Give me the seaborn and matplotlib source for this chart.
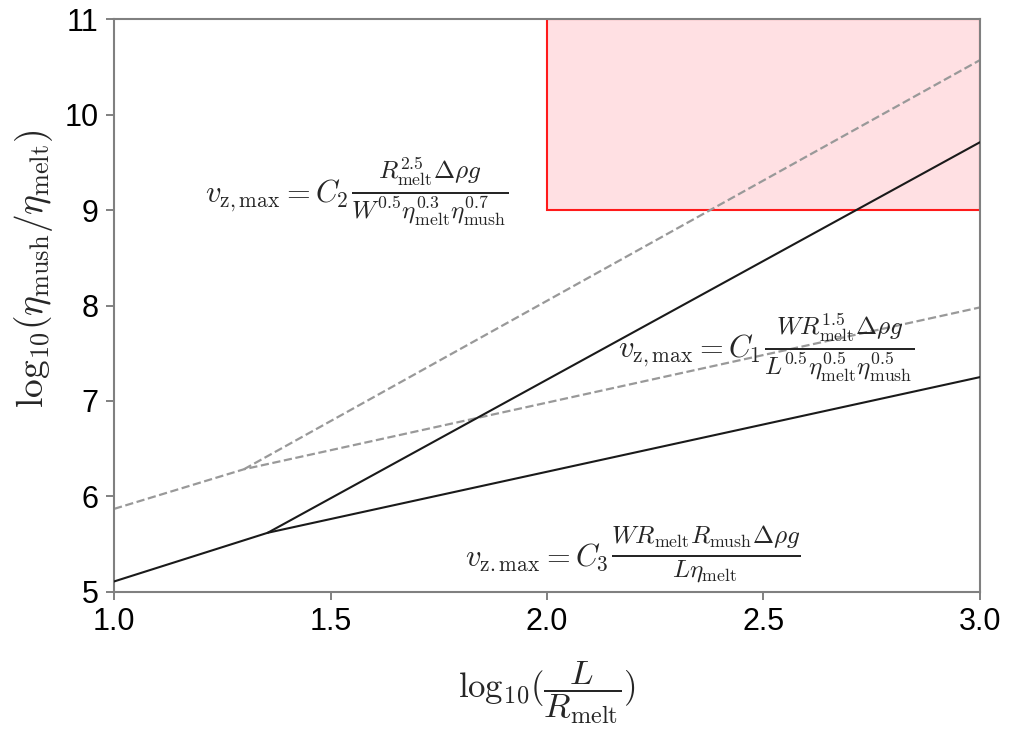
import numpy as np
import matplotlib
matplotlib.use("Agg")
import matplotlib.pyplot as plt
import seaborn as sns
from matplotlib.patches import Rectangle

sns.set_theme(style="ticks")
plt.rcParams["font.family"] = ["Liberation Sans", "DejaVu Sans"]
plt.rcParams["mathtext.fontset"] = "cm"

# regime boundaries (x = log10(L/R_melt), y = log10(eta ratio))
solid_low_x = [1.0, 1.355, 3.0]
solid_low_y = [5.11, 5.62, 7.25]
solid_steep_x = [1.355, 3.0]
solid_steep_y = [5.62, 9.71]

dash_low_x = [1.0, 1.30, 3.0]
dash_low_y = [5.87, 6.285, 7.98]
dash_steep_x = [1.30, 3.0]
dash_steep_y = [6.285, 10.57]

# highlighted region
box_x = [2.0, 3.0]
box_y = [9.0, 11.0]

xticks = [1.0, 1.5, 2.0, 2.5, 3.0]
yticks = [5, 6, 7, 8, 9, 10, 11]

# scaling-law labels: (x, y, prefix, fraction)
labels = [
    (1.21, 9.15,
     r"$v_{\mathrm{z,max}} = C_2$",
     r"$\frac{R_{\mathrm{melt}}^{2.5}\Delta\rho g}"
     r"{W^{0.5}\eta_{\mathrm{melt}}^{0.3}\eta_{\mathrm{mush}}^{0.7}}$"),
    (2.164, 7.52,
     r"$v_{\mathrm{z,max}} = C_1$",
     r"$\frac{W R_{\mathrm{melt}}^{1.5}\Delta\rho g}"
     r"{L^{0.5}\eta_{\mathrm{melt}}^{0.5}\eta_{\mathrm{mush}}^{0.5}}$"),
    (1.81, 5.36,
     r"$v_{\mathrm{z.max}} = C_3$",
     r"$\frac{W R_{\mathrm{melt}} R_{\mathrm{mush}}\Delta\rho g}"
     r"{L\eta_{\mathrm{melt}}}$"),
]

fig = plt.figure(figsize=(10.11, 7.35), dpi=100)
ax = fig.add_axes([0.1128, 0.1946, 0.8565, 0.7795])

ax.add_patch(Rectangle((box_x[0], box_y[0]), box_x[1] - box_x[0], box_y[1] - box_y[0],
                       facecolor="#ffe0e3", edgecolor="#ff1a1a", linewidth=1.5, zorder=1))

sns.lineplot(x=dash_low_x, y=dash_low_y, ax=ax, color="#999999", linestyle="--",
             linewidth=1.6, dashes=(5, 3), zorder=2)
sns.lineplot(x=dash_steep_x, y=dash_steep_y, ax=ax, color="#999999", linestyle="--",
             linewidth=1.6, dashes=(5, 3), zorder=2)
sns.lineplot(x=solid_low_x, y=solid_low_y, ax=ax, color="#1a1a1a", linewidth=1.5, zorder=3)
sns.lineplot(x=solid_steep_x, y=solid_steep_y, ax=ax, color="#1a1a1a", linewidth=1.5, zorder=3)

ax.set_xlim(1.0, 3.0)
ax.set_ylim(5, 11)
ax.set_xticks(xticks)
ax.set_xticklabels([f"{t:.1f}" for t in xticks])
ax.set_yticks(yticks)
ax.tick_params(axis="both", labelsize=22, color="#808080", length=6, width=1.4,
               direction="out", labelcolor="black", pad=5)
for sp in ax.spines.values():
    sp.set_color("#808080")
    sp.set_linewidth(1.5)

ax.set_xlabel(r"$\mathrm{log}_{10}(\dfrac{L}{R_{\mathrm{melt}}})$", fontsize=25, labelpad=16)
ax.set_ylabel(r"$\mathrm{log}_{10}(\eta_{\mathrm{mush}}/\eta_{\mathrm{melt}})$", fontsize=27)
ax.yaxis.set_label_coords(-0.068, 0.565)

for x, y, prefix, frac in labels:
    t = ax.text(x, y, prefix, fontsize=22, ha="left", va="center", zorder=4)
    ax.annotate(frac, xy=(1.0, 0.5), xycoords=t, xytext=(2, 2.5), textcoords="offset points",
                fontsize=26, ha="left", va="center", zorder=4)

fig.savefig("out.png", dpi=100)
